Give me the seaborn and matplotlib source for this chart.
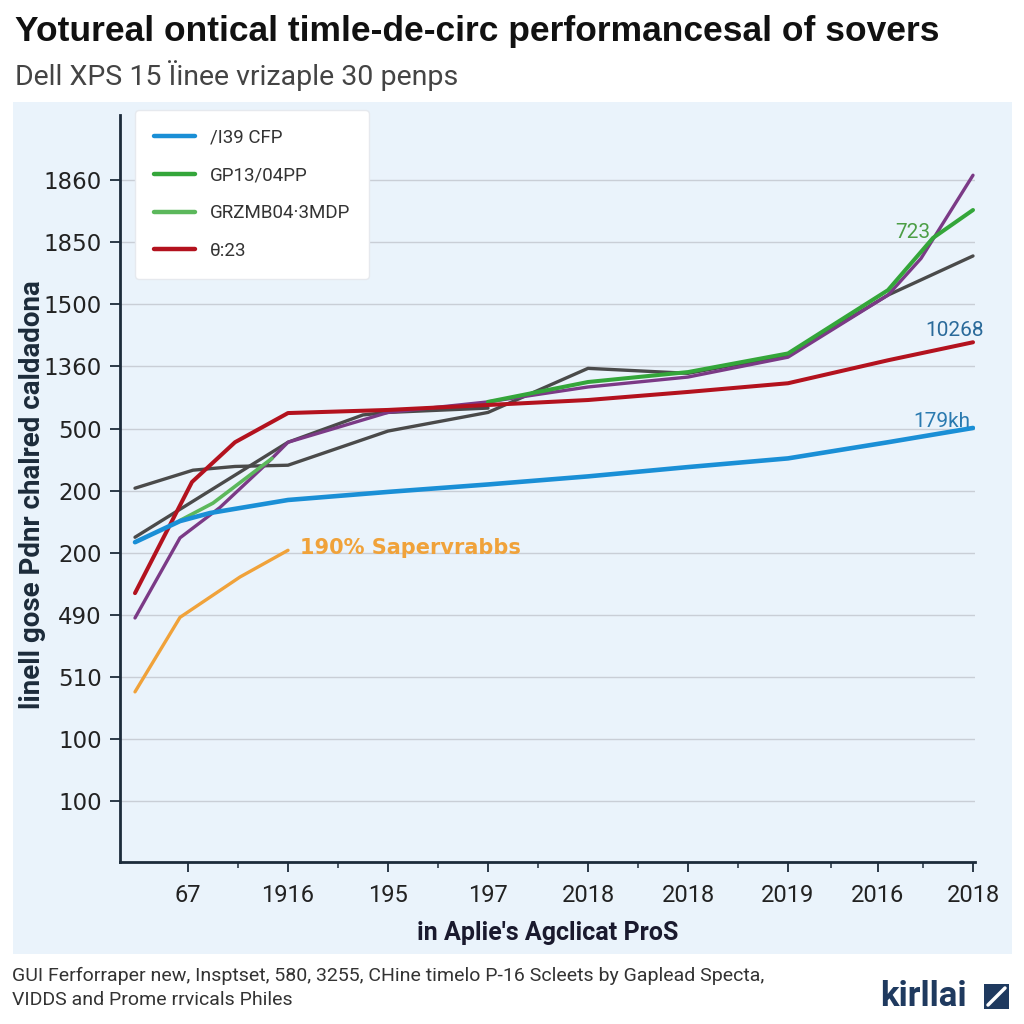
import matplotlib
matplotlib.use("Agg")
import matplotlib.pyplot as plt
from matplotlib.patches import Rectangle
from matplotlib.lines import Line2D
import seaborn as sns
import pandas as pd

# ---------------- data ----------------
x_tick_pos = [0, 1, 2, 3, 4, 5, 6, 6.9, 7.85]
x_tick_labels = ["67", "1916", "195", "197", "2018", "2018", "2019", "2016", "2018"]
y_tick_labels = ["100", "100", "510", "490", "200", "200", "500", "1360", "1500", "1850", "1860"]

blue_x = [-0.53, -0.08, 0.22, 1.0, 2.0, 3.0, 4.0, 5.0, 6.0, 7.0, 7.85]
blue_y = [4.17, 4.51, 4.64, 4.85, 4.98, 5.10, 5.23, 5.38, 5.52, 5.78, 6.01]

red_x = [-0.53, 0.04, 0.47, 1.0, 2.0, 3.0, 4.0, 5.0, 6.0, 7.0, 7.85]
red_y = [3.35, 5.14, 5.78, 6.25, 6.30, 6.38, 6.46, 6.59, 6.73, 7.10, 7.39]

gray1_x = [-0.53, 0.05, 0.47, 1.0, 2.0, 3.0, 4.0, 5.0, 6.0, 7.0, 7.85]
gray1_y = [5.04, 5.33, 5.39, 5.41, 5.96, 6.26, 6.97, 6.89, 7.18, 8.15, 8.78]

gray2_x = [-0.53, 1.0, 1.75, 2.0, 3.0]
gray2_y = [4.25, 5.78, 6.22, 6.26, 6.33]

purple_x = [-0.53, -0.08, 0.32, 0.79, 1.0, 2.0, 3.0, 4.0, 5.0, 6.0, 7.0, 7.33, 7.85]
purple_y = [2.95, 4.24, 4.73, 5.44, 5.78, 6.26, 6.43, 6.67, 6.83, 7.15, 8.15, 8.74, 10.08]

green_x = [3.0, 4.0, 5.0, 6.0, 7.0, 7.45, 7.85]
green_y = [6.43, 6.75, 6.91, 7.21, 8.23, 9.07, 9.52]

lgreen_x = [-0.08, 0.25, 0.84]
lgreen_y = [4.52, 4.80, 5.52]

orange_x = [-0.53, -0.08, 0.52, 1.0]
orange_y = [1.76, 2.96, 3.61, 4.04]

legend_labels = ["/I39 CFP", "GP13/04PP", "GRZMB04·3MDP", "θ:23"]

title = "Yotureal ontical timle-de-circ performancesal of sovers"
subtitle = "Dell XPS 15 Ïinee vrizaple 30 penps"
ylabel = "linell gose Pdnr chalred caldadona"
xlabel = "in Aplie's Agclicat ProS"
footer = ("GUI Ferforraper new, Insptset, 580, 3255, CHine timelo P-16 Scleets by Gaplead Specta,\n"
          "VIDDS and Prome rrvicals Philes")

# ---------------- style ----------------
sns.set_theme(style="white")
plt.rcParams["font.family"] = ["DejaVu Sans"]

BG = "#eaf3fb"
NAVY = "#1c2b3a"

fig = plt.figure(figsize=(10.24, 10.24), dpi=100)
fig.patch.set_facecolor("white")
fig.patches.append(Rectangle((13 / 1024, 1 - 954 / 1024), (1012 - 13) / 1024, (954 - 102) / 1024,
                             transform=fig.transFigure, facecolor=BG, edgecolor="none", zorder=-10))

ax = fig.add_axes([120 / 1024, 1 - 862 / 1024, (975 - 120) / 1024, (862 - 115) / 1024])
ax.set_facecolor(BG)
ax.set_zorder(1)

series = [
    (gray1_x, gray1_y, "#4a4a4a", 2.4),
    (gray2_x, gray2_y, "#4a4a4a", 2.4),
    (orange_x, orange_y, "#f0a23a", 2.4),
    (purple_x, purple_y, "#7b3a86", 2.4),
    (lgreen_x, lgreen_y, "#5cb85c", 2.6),
    (green_x, green_y, "#34a63a", 2.9),
    (red_x, red_y, "#b3121e", 2.9),
    (blue_x, blue_y, "#1a8fd6", 3.3),
]
for xs, ys, c, lw in series:
    df = pd.DataFrame({"x": xs, "y": ys})
    sns.lineplot(data=df, x="x", y="y", ax=ax, color=c, linewidth=lw, sort=False,
                 estimator=None, legend=False, solid_capstyle="round")

ax.set_xlim(-0.68, 7.87)
ax.set_ylim(-0.98, 11.05)

ax.set_yticks(range(len(y_tick_labels)))
ax.set_yticklabels(y_tick_labels, fontsize=16.5, color="#222222")
ax.set_xticks(x_tick_pos)
ax.set_xticklabels(x_tick_labels, fontsize=17, color="#222222", family="Roboto")
ax.set_xticks([0.5, 1.5, 2.5, 3.5, 4.5, 5.5, 6.43, 7.35], minor=True)
ax.tick_params(axis="y", which="major", direction="out", length=7, width=1.3, color=NAVY, pad=6, left=True)
ax.tick_params(axis="x", which="major", direction="out", length=7, width=1.3, color=NAVY, pad=9, bottom=True)
ax.tick_params(axis="x", which="minor", direction="out", length=4, width=1.1, color=NAVY, bottom=True)

for yv in range(len(y_tick_labels)):
    ax.axhline(yv, color="#c9ced6", linewidth=1.0, zorder=0)

for s in ["top", "right"]:
    ax.spines[s].set_visible(False)
for s in ["left", "bottom"]:
    ax.spines[s].set_color(NAVY)
    ax.spines[s].set_linewidth(2.0)

ax.set_xlabel(xlabel, fontsize=18, fontweight="bold", color="#1a1a2e", family="Roboto", labelpad=10)
ax.set_ylabel("")
fig.text(33 / 1024, 1 - 495 / 1024, ylabel, rotation=90, ha="center", va="center",
         fontsize=20, fontweight="bold", color=NAVY, family="Roboto")

# annotations
ax.text(7.25, 9.15, "723", color="#4c9e45", fontsize=15, ha="center", va="center", family="Roboto")
ax.text(7.67, 7.58, "10268", color="#2a6a9a", fontsize=15, ha="center", va="center", family="Roboto")
ax.text(7.54, 6.12, "179kh", color="#2a7ab0", fontsize=15, ha="center", va="center", family="Roboto")
ax.text(1.12, 4.07, "190% Sapervrabbs", color="#f0a23a", fontsize=15, fontweight="bold",
        ha="left", va="center")

# legend
handles = [
    Line2D([0], [0], color="#1a8fd6", lw=3.2),
    Line2D([0], [0], color="#34a63a", lw=3.2),
    Line2D([0], [0], color="#5cb85c", lw=3.2),
    Line2D([0], [0], color="#b3121e", lw=3.2),
]
leg = ax.legend(handles, legend_labels, loc="upper left",
                bbox_to_anchor=(135 / 1024, 1 - 110 / 1024), bbox_transform=fig.transFigure,
                fontsize=13.5, frameon=True, fancybox=True, framealpha=1.0,
                facecolor="white", edgecolor="#e6e9ee", handlelength=2.2, handletextpad=0.8,
                labelspacing=1.05, borderpad=1.0, borderaxespad=0)
for t in leg.get_texts():
    t.set_color("#333333")
    t.set_family("Roboto")

# title / subtitle
fig.text(15 / 1024, 1 - 32 / 1024, title, fontsize=25.5, fontweight="bold", color="#111111",
         ha="left", va="center", family="Liberation Sans")
fig.text(15 / 1024, 1 - 76 / 1024, subtitle, fontsize=20.5, color="#444444",
         ha="left", va="center", family="Roboto")

# footer
fig.text(12 / 1024, 1 - 988 / 1024, footer, fontsize=14, color="#333333", ha="left",
         va="center", family="Roboto", linespacing=1.45)

# logo
fig.text(880 / 1024, 1 - 997 / 1024, "kirllai", fontsize=25, fontweight="bold", color="#1f3a5f",
         ha="left", va="center", family="Roboto")
fig.patches.append(Rectangle((984 / 1024, 1 - 1009 / 1024), 25 / 1024, 25 / 1024,
                             transform=fig.transFigure, facecolor="#1f3a5f", edgecolor="none"))
fig.lines.append(Line2D([988 / 1024, 1005 / 1024], [1 - 1005 / 1024, 1 - 988 / 1024],
                        transform=fig.transFigure, color="white", lw=2.5))

fig.savefig("out.png", dpi=100)
